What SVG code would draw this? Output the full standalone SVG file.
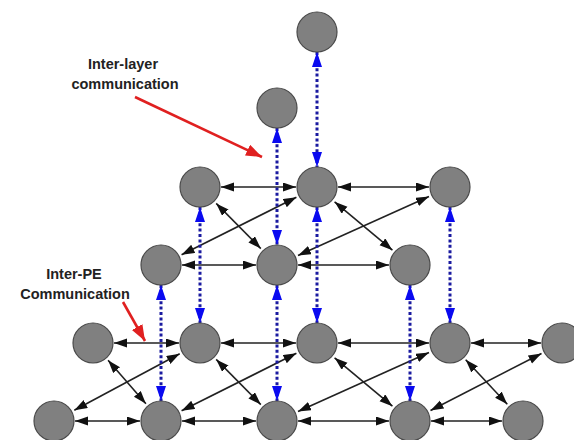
<svg xmlns="http://www.w3.org/2000/svg" width="574" height="440" viewBox="0 0 574 440">
<defs>
<style>
.n{fill:#808080;stroke:#4a4a4a;stroke-width:1.2}
.b{stroke:#222;stroke-width:1.6;fill:none;marker-start:url(#ka);marker-end:url(#ka)}
.v{stroke:#1a1aa0;stroke-width:3;stroke-dasharray:3 2.4;fill:none;marker-start:url(#ba);marker-end:url(#ba)}
.r{stroke:#e02020;stroke-width:2.6;fill:none;marker-end:url(#ra)}
.t{font-family:"Liberation Sans",Arial,sans-serif;font-weight:bold;font-size:14.5px;fill:#222;text-anchor:middle}
</style>
<marker id="ka" markerUnits="userSpaceOnUse" markerWidth="14" markerHeight="10" refX="13" refY="4.5" orient="auto-start-reverse"><path d="M0,0 L13,4.5 L0,9 z" fill="#111"/></marker>
<marker id="ba" markerUnits="userSpaceOnUse" markerWidth="16" markerHeight="11" refX="15" refY="5" orient="auto-start-reverse"><path d="M0,0 L15,5 L0,10 z" fill="#0a0af0"/></marker>
<marker id="ra" markerUnits="userSpaceOnUse" markerWidth="18" markerHeight="13" refX="16" refY="6" orient="auto"><path d="M0,0 L16,6 L0,12 z" fill="#e02020"/></marker>
</defs>
<rect width="574" height="440" fill="#fff"/>
<g id="labels">
<text class="t" x="123" y="69">Inter-layer</text>
<text class="t" x="125" y="89">communication</text>
<text class="t" x="74" y="279">Inter-PE</text>
<text class="t" x="75" y="299">Communication</text>
</g>
<g id="connectors">
<line class="b" x1="221" y1="187" x2="296" y2="187"/>
<line class="b" x1="338" y1="187" x2="429" y2="187"/>
<line class="b" x1="182" y1="265" x2="256" y2="265"/>
<line class="b" x1="298" y1="265" x2="389" y2="265"/>
<line class="b" x1="114" y1="343" x2="179" y2="343"/>
<line class="b" x1="221" y1="343" x2="296" y2="343"/>
<line class="b" x1="338" y1="343" x2="429" y2="343"/>
<line class="b" x1="471" y1="343" x2="541" y2="343"/>
<line class="b" x1="75" y1="421" x2="140" y2="421"/>
<line class="b" x1="182" y1="421" x2="256" y2="421"/>
<line class="b" x1="298" y1="421" x2="389" y2="421"/>
<line class="b" x1="431" y1="421" x2="502" y2="421"/>
<line class="b" x1="216.2" y1="203.4" x2="260.8" y2="248.6"/>
<line class="b" x1="296.4" y1="197.3" x2="181.6" y2="254.7"/>
<line class="b" x1="334.6" y1="201.8" x2="392.4" y2="250.2"/>
<line class="b" x1="429" y1="196.5" x2="298" y2="255.5"/>
<line class="b" x1="108.1" y1="360.3" x2="145.9" y2="403.7"/>
<line class="b" x1="179.7" y1="353.8" x2="74.3" y2="410.2"/>
<line class="b" x1="216.2" y1="359.4" x2="260.8" y2="404.6"/>
<line class="b" x1="296.4" y1="353.3" x2="181.6" y2="410.7"/>
<line class="b" x1="334.6" y1="357.8" x2="392.4" y2="406.2"/>
<line class="b" x1="429" y1="352.5" x2="298" y2="411.5"/>
<line class="b" x1="465.7" y1="359.8" x2="507.3" y2="404.2"/>
<line class="b" x1="541.5" y1="353.5" x2="430.5" y2="410.5"/>
<line class="v" x1="317" y1="52" x2="317" y2="167"/>
<line class="v" x1="277" y1="128" x2="277" y2="245"/>
<line class="v" x1="200" y1="207" x2="200" y2="323"/>
<line class="v" x1="317" y1="207" x2="317" y2="323"/>
<line class="v" x1="450" y1="207" x2="450" y2="323"/>
<line class="v" x1="161" y1="285" x2="161" y2="401"/>
<line class="v" x1="277" y1="285" x2="277" y2="401"/>
<line class="v" x1="410" y1="285" x2="410" y2="401"/>
<line class="r" x1="135" y1="97" x2="262" y2="157"/>
<line class="r" x1="123" y1="302" x2="145" y2="341"/>
</g>
<g id="nT"><circle class="n" cx="317" cy="32" r="20"/></g>
<g id="nN"><circle class="n" cx="277" cy="108" r="20"/></g>
<g id="nA1"><circle class="n" cx="200" cy="187" r="20"/></g>
<g id="nA2"><circle class="n" cx="317" cy="187" r="20"/></g>
<g id="nA3"><circle class="n" cx="450" cy="187" r="20"/></g>
<g id="nB1"><circle class="n" cx="161" cy="265" r="20"/></g>
<g id="nB2"><circle class="n" cx="277" cy="265" r="20"/></g>
<g id="nB3"><circle class="n" cx="410" cy="265" r="20"/></g>
<g id="nC1"><circle class="n" cx="93" cy="343" r="20"/></g>
<g id="nC2"><circle class="n" cx="200" cy="343" r="20"/></g>
<g id="nC3"><circle class="n" cx="317" cy="343" r="20"/></g>
<g id="nC4"><circle class="n" cx="450" cy="343" r="20"/></g>
<g id="nC5"><circle class="n" cx="562" cy="343" r="20"/></g>
<g id="nD1"><circle class="n" cx="54" cy="421" r="20"/></g>
<g id="nD2"><circle class="n" cx="161" cy="421" r="20"/></g>
<g id="nD3"><circle class="n" cx="277" cy="421" r="20"/></g>
<g id="nD4"><circle class="n" cx="410" cy="421" r="20"/></g>
<g id="nD5"><circle class="n" cx="523" cy="421" r="20"/></g>
</svg>
